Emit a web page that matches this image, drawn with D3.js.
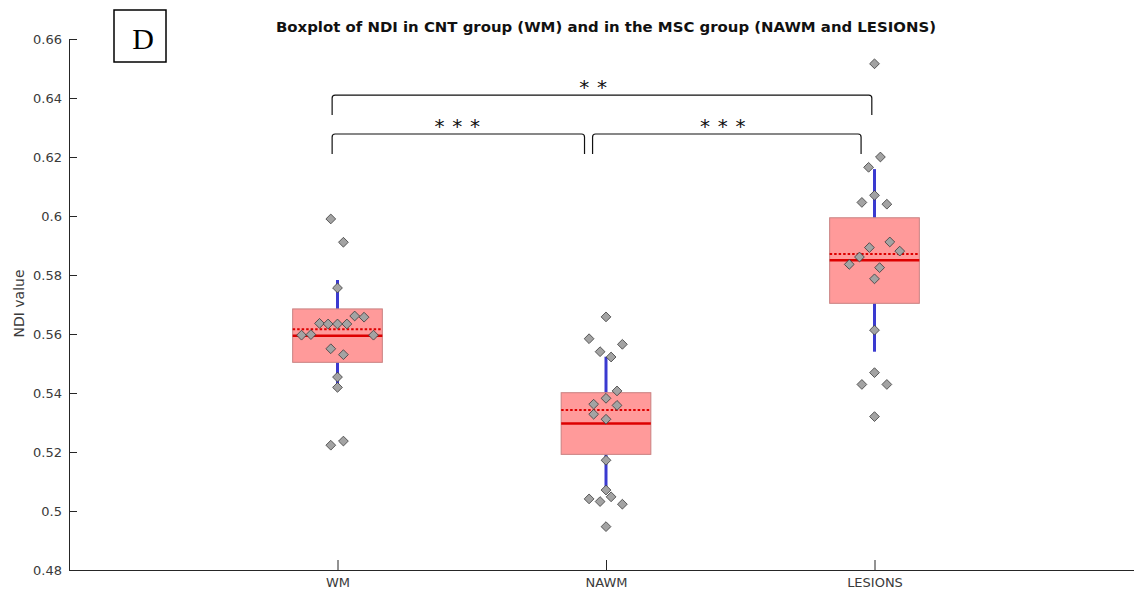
<!DOCTYPE html>
<html>
<head>
<meta charset="utf-8">
<script src="https://cdn.jsdelivr.net/npm/d3@7"></script>
<style>
  html, body { margin: 0; padding: 0; background: #fff; }
  svg { display: block; }
</style>
</head>
<body>
<script>
// Groups along the x axis (placed at 1, 2, 3)
const categories = ["WM", "NAWM", "LESIONS"];
const yTicks = [0.48, 0.50, 0.52, 0.54, 0.56, 0.58, 0.60, 0.62, 0.64, 0.66];

// Box statistics per group
const q1          = [0.5504, 0.5192, 0.5704];
const q3          = [0.5685, 0.5401, 0.5994];
const medians     = [0.5594, 0.5297, 0.5850];
const means       = [0.5616, 0.5342, 0.5871];
const whiskerLow  = [0.5420, 0.5082, 0.5540];
const whiskerHigh = [0.5783, 0.5523, 0.6159];

// Individual subject values and their horizontal spread (in category units)
const wmValues = [0.5990, 0.5911, 0.5756, 0.5661, 0.5657, 0.5636, 0.5634, 0.5634, 0.5634,
                  0.5596, 0.5598, 0.5596, 0.5550, 0.5530, 0.5454, 0.5419, 0.5223, 0.5237];
const wmJitter = [-0.025, 0.022, 0, 0.064, 0.099, -0.067, -0.035, 0, 0.035,
                  -0.134, -0.099, 0.134, -0.025, 0.022, 0, 0, -0.025, 0.022];

const nawmValues = [0.5658, 0.5584, 0.5565, 0.5540, 0.5522, 0.5407, 0.5382, 0.5362, 0.5358,
                    0.5328, 0.5311, 0.5172, 0.5071, 0.5048, 0.5041, 0.5032, 0.5023, 0.4947];
const nawmJitter = [0, -0.063, 0.061, -0.022, 0.019, 0.041, 0, -0.046, 0.041,
                    -0.046, 0, 0, 0, 0.019, -0.063, -0.022, 0.061, 0];

const lesionValues = [0.6516, 0.6200, 0.6165, 0.6070, 0.6046, 0.6040, 0.5912, 0.5893, 0.5881,
                      0.5861, 0.5836, 0.5825, 0.5787, 0.5613, 0.5469, 0.5429, 0.5429, 0.5320];
const lesionJitter = [0, 0.022, -0.022, 0, -0.047, 0.046, 0.057, -0.019, 0.094,
                      -0.056, -0.094, 0.019, 0, 0, 0, -0.047, 0.046, 0];

// Significance brackets between groups
const bracketFrom   = [0.98, 1.95, 0.98];
const bracketTo     = [1.92, 2.95, 2.99];
const bracketLevel  = [0.6278, 0.6278, 0.6410];
const bracketStars  = [3, 3, 2];
const bracketLabelX = [1.446, 2.435, 1.952];

const W = 1134, H = 592;
const svg = d3.select("body").append("svg")
  .attr("width", W).attr("height", H)
  .style("font-family", "'DejaVu Sans', sans-serif");

const x = d3.scaleLinear().domain([0, 4]).range([69, 1143]);
const y = d3.scaleLinear().domain([0.48, 0.66]).range([570, 39]);

const axisColor = "#262626";

// Y axis (ticks pointing inward)
const gy = svg.append("g").attr("transform", `translate(${x(0)},0)`)
  .call(d3.axisLeft(y).tickValues(yTicks).tickFormat(d3.format("~g"))
        .tickSizeInner(-8).tickSizeOuter(0).tickPadding(7));
gy.select(".domain").attr("stroke", axisColor);
gy.selectAll(".tick line").attr("stroke", axisColor);
gy.selectAll(".tick text").attr("fill", "#3a3a3a")
  .style("font-size", "13px").style("font-family", "'DejaVu Sans', sans-serif");

// X axis
const gx = svg.append("g").attr("transform", `translate(0,${y(0.48)})`)
  .call(d3.axisBottom(x).tickValues([1, 2, 3]).tickFormat((d) => categories[d - 1])
        .tickSizeInner(-10).tickSizeOuter(0).tickPadding(8));
gx.select(".domain").attr("stroke", axisColor);
gx.selectAll(".tick line").attr("stroke", axisColor);
gx.selectAll(".tick text").attr("fill", "#3a3a3a")
  .style("font-size", "13px").style("font-family", "'DejaVu Sans', sans-serif");

// Axis label
svg.append("text")
  .attr("transform", `translate(24,${(y(0.48) + y(0.66)) / 2 - 1}) rotate(-90)`)
  .attr("text-anchor", "middle")
  .attr("fill", "#3a3a3a")
  .style("font-size", "14px")
  .text("NDI value");

// Title
svg.append("text")
  .attr("x", (x(0) + x(4)) / 2).attr("y", 32)
  .attr("text-anchor", "middle")
  .attr("fill", "#111")
  .attr("textLength", 660).attr("lengthAdjust", "spacingAndGlyphs")
  .style("font-size", "14.5px").style("font-weight", "bold")
  .text("Boxplot of NDI in CNT group (WM) and in the MSC group (NAWM and LESIONS)");

// Panel letter
svg.append("rect").attr("x", 114).attr("y", 10).attr("width", 52).attr("height", 52)
  .attr("fill", "#fff").attr("stroke", "#000").attr("stroke-width", 1.5);
svg.append("text").attr("x", 143).attr("y", 49).attr("text-anchor", "middle")
  .style("font-family", "'Liberation Serif', 'DejaVu Serif', serif").style("font-size", "30px")
  .attr("fill", "#000").text("D");

// Boxes
const halfW = 0.167;
const groups = categories.map((c, i) => ({ i, pos: i + 1 }));

const gBox = svg.append("g");
groups.forEach(({ i, pos }) => {
  // whiskers
  gBox.append("line")
    .attr("x1", x(pos)).attr("x2", x(pos))
    .attr("y1", y(q3[i])).attr("y2", y(whiskerHigh[i]))
    .attr("stroke", "#3a3ad0").attr("stroke-width", 3);
  gBox.append("line")
    .attr("x1", x(pos)).attr("x2", x(pos))
    .attr("y1", y(q1[i])).attr("y2", y(whiskerLow[i]))
    .attr("stroke", "#3a3ad0").attr("stroke-width", 3);
  // interquartile box
  gBox.append("rect")
    .attr("x", x(pos - halfW)).attr("width", x(pos + halfW) - x(pos - halfW))
    .attr("y", y(q3[i])).attr("height", y(q1[i]) - y(q3[i]))
    .attr("fill", "#ff9a9a").attr("stroke", "#c98080").attr("stroke-width", 1);
  // median
  gBox.append("line")
    .attr("x1", x(pos - halfW)).attr("x2", x(pos + halfW))
    .attr("y1", y(medians[i])).attr("y2", y(medians[i]))
    .attr("stroke", "#dd0000").attr("stroke-width", 2.5);
  // mean
  gBox.append("line")
    .attr("x1", x(pos - halfW)).attr("x2", x(pos + halfW))
    .attr("y1", y(means[i])).attr("y2", y(means[i]))
    .attr("stroke", "#dd0000").attr("stroke-width", 2).attr("stroke-dasharray", "2.5,2");
});

// Subject points
const diamond = {
  draw(ctx, size) {
    const r = Math.sqrt(size / 2);
    ctx.moveTo(0, -r); ctx.lineTo(r, 0); ctx.lineTo(0, r); ctx.lineTo(-r, 0); ctx.closePath();
  }
};
const pointSets = [
  { pos: 1, values: wmValues, jitter: wmJitter },
  { pos: 2, values: nawmValues, jitter: nawmJitter },
  { pos: 3, values: lesionValues, jitter: lesionJitter }
];
const sym = d3.symbol().type(diamond).size(48);
const gPts = svg.append("g");
pointSets.forEach((s) => {
  gPts.selectAll(null).data(s.values).join("path")
    .attr("d", sym)
    .attr("transform", (v, k) => `translate(${x(s.pos + s.jitter[k])},${y(v)})`)
    .attr("fill", "#a3a3a3").attr("stroke", "#3a3a3a").attr("stroke-width", 0.8)
    .attr("stroke-linejoin", "round");
});

// Significance brackets
const drop = 0.0068, r = 3;
const gBr = svg.append("g");
bracketFrom.forEach((f, k) => {
  const x0 = x(f), x1 = x(bracketTo[k]);
  const yt = y(bracketLevel[k]), yb = y(bracketLevel[k] - drop);
  gBr.append("path")
    .attr("d", `M${x0},${yb} L${x0},${yt + r} Q${x0},${yt} ${x0 + r},${yt} L${x1 - r},${yt} Q${x1},${yt} ${x1},${yt + r} L${x1},${yb}`)
    .attr("fill", "none").attr("stroke", "#111").attr("stroke-width", 1.2);
  const n = bracketStars[k], gap = 17.7;
  const cx = x(bracketLabelX[k]);
  d3.range(n).forEach((j) => {
    gBr.append("text")
      .attr("x", cx + (j - (n - 1) / 2) * gap)
      .attr("y", yt - 1)
      .attr("text-anchor", "middle")
      .style("font-size", "20px")
      .attr("fill", "#111")
      .text("*");
  });
});
</script>
</body>
</html>
